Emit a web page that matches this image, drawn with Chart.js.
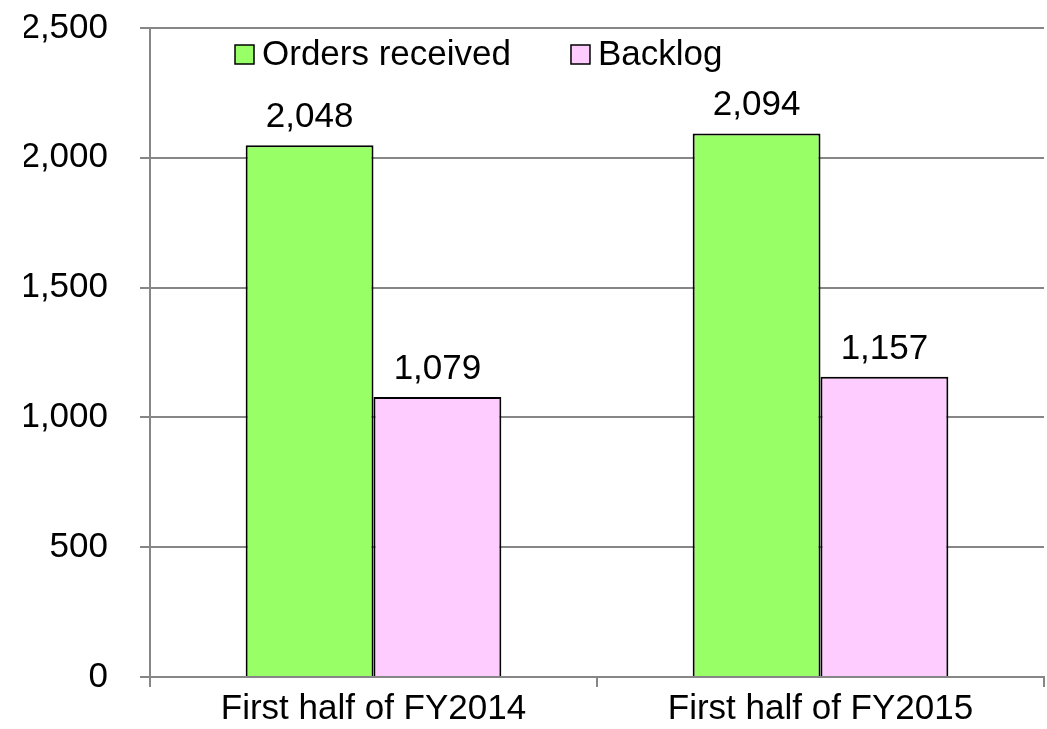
<!DOCTYPE html>
<html>
<head>
<meta charset="utf-8">
<script src="https://cdn.jsdelivr.net/npm/chart.js@4/dist/chart.umd.min.js"></script>
<style>
    html, body { margin: 0; padding: 0; background: #fff; }
    #wrap { width: 1047px; height: 729px; }
</style>
</head>
<body>
<div id="wrap"><canvas id="ordersChart" width="1047" height="729"></canvas></div>
<script>
// Orders received vs backlog, first half of each fiscal year
const categories = ['First half of FY2014', 'First half of FY2015'];
const ordersReceived = [2048, 2094];
const backlog = [1079, 1157];
const yTicks = [0, 500, 1000, 1500, 2000, 2500];

const FONT = '"Liberation Sans", Arial, sans-serif';
const FONT_SIZE = 35;
const GRID = '#868686';

// values drawn above each bar
const barValuePlugin = {
    id: 'barValues',
    afterDatasetsDraw(chart) {
        const ctx = chart.ctx;
        ctx.save();
        ctx.font = FONT_SIZE + 'px ' + FONT;
        ctx.fillStyle = '#000';
        ctx.textAlign = 'center';
        ctx.textBaseline = 'alphabetic';
        chart.data.datasets.forEach((ds, i) => {
            chart.getDatasetMeta(i).data.forEach((bar, j) => {
                ctx.fillText(ds.data[j].toLocaleString('en-US'), bar.x, bar.y - 18);
            });
        });
        ctx.restore();
    }
};

// legend sitting inside the plot area
const innerLegendPlugin = {
    id: 'innerLegend',
    afterDraw(chart) {
        const ctx = chart.ctx;
        const area = chart.chartArea;
        let x = area.left + 85;
        const y = area.top + 26;
        ctx.save();
        ctx.font = FONT_SIZE + 'px ' + FONT;
        ctx.textBaseline = 'middle';
        chart.data.datasets.forEach(ds => {
            ctx.fillStyle = ds.backgroundColor;
            ctx.fillRect(x, y - 9, 19, 19);
            ctx.strokeStyle = '#000';
            ctx.lineWidth = 1.5;
            ctx.strokeRect(x, y - 9, 19, 19);
            ctx.fillStyle = '#000';
            ctx.fillText(ds.label, x + 27, y + 1);
            x += 27 + ctx.measureText(ds.label).width + 60;
        });
        ctx.restore();
    }
};

new Chart(document.getElementById('ordersChart'), {
    type: 'bar',
    data: {
        labels: categories,
        datasets: [
            {
                label: 'Orders received',
                data: ordersReceived,
                backgroundColor: '#99FF66',
                borderColor: '#000',
                borderWidth: 2
            },
            {
                label: 'Backlog',
                data: backlog,
                backgroundColor: '#FFCCFF',
                borderColor: '#000',
                borderWidth: 2
            }
        ]
    },
    options: {
        responsive: false,
        animation: false,
        locale: 'en-US',
        layout: { padding: { left: 24, right: 3, top: 28, bottom: 0 } },
        datasets: {
            bar: { barPercentage: 1, categoryPercentage: 0.572 }
        },
        plugins: {
            legend: { display: false },
            tooltip: { enabled: false }
        },
        scales: {
            x: {
                grid: {
                    drawOnChartArea: false,
                    drawTicks: true,
                    tickLength: 10,
                    color: GRID,
                    lineWidth: 2
                },
                border: { color: GRID, width: 2 },
                ticks: {
                    color: '#000',
                    font: { family: FONT, size: FONT_SIZE },
                    padding: 1
                },
                afterFit(scale) {
                    scale.height = 52;
                    scale.paddingLeft = 0;
                    scale.paddingRight = 0;
                }
            },
            y: {
                min: 0,
                max: 2500,
                afterBuildTicks(axis) {
                    axis.ticks = yTicks.map(v => ({ value: v }));
                },
                grid: {
                    color: GRID,
                    lineWidth: 2,
                    tickLength: 10
                },
                border: { color: GRID, width: 2 },
                ticks: {
                    color: '#000',
                    font: { family: FONT, size: FONT_SIZE },
                    padding: 32,
                    callback: v => v.toLocaleString('en-US')
                },
                afterFit(scale) {
                    scale.width = 126;
                    scale.paddingTop = 0;
                    scale.paddingBottom = 0;
                }
            }
        }
    },
    plugins: [barValuePlugin, innerLegendPlugin]
});
</script>
</body>
</html>
